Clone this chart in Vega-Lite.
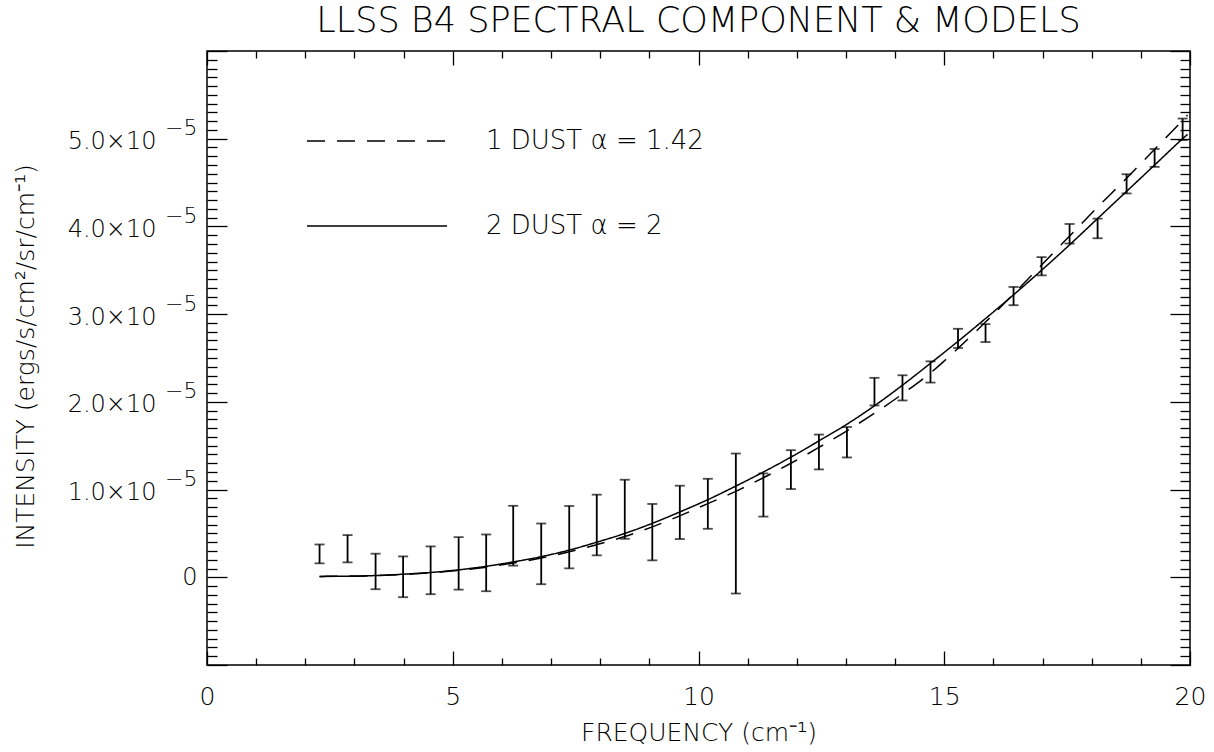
{
  "$schema": "https://vega.github.io/schema/vega-lite/v6.json",
  "width": 983,
  "height": 614,
  "autosize": {"type": "none"},
  "padding": {"left": 207, "top": 51, "right": 24, "bottom": 87},
  "background": "white",
  "title": {"text": "LLSS B4 SPECTRAL COMPONENT & MODELS", "fontSize": 35, "font": "DejaVu Sans", "fontWeight": 200, "color": "black", "offset": 3, "anchor": "middle"},
  "datasets": {
    "errors": [
      {"nu": 2.29, "lo": 1.59e-6, "hi": 3.74e-6},
      {"nu": 2.86, "lo": 1.70e-6, "hi": 4.81e-6},
      {"nu": 3.43, "lo": -1.36e-6, "hi": 2.69e-6},
      {"nu": 3.99, "lo": -2.27e-6, "hi": 2.38e-6},
      {"nu": 4.55, "lo": -1.93e-6, "hi": 3.52e-6},
      {"nu": 5.12, "lo": -1.40e-6, "hi": 4.58e-6},
      {"nu": 5.68, "lo": -1.59e-6, "hi": 4.88e-6},
      {"nu": 6.23, "lo": 1.33e-6, "hi": 8.15e-6},
      {"nu": 6.80, "lo": -0.79e-6, "hi": 6.13e-6},
      {"nu": 7.37, "lo": 1.02e-6, "hi": 8.13e-6},
      {"nu": 7.93, "lo": 2.50e-6, "hi": 9.42e-6},
      {"nu": 8.50, "lo": 4.39e-6, "hi": 1.112e-5},
      {"nu": 9.06, "lo": 1.93e-6, "hi": 8.36e-6},
      {"nu": 9.62, "lo": 4.36e-6, "hi": 1.044e-5},
      {"nu": 10.19, "lo": 5.53e-6, "hi": 1.123e-5},
      {"nu": 10.76, "lo": -1.85e-6, "hi": 1.411e-5},
      {"nu": 11.32, "lo": 6.92e-6, "hi": 1.184e-5},
      {"nu": 11.88, "lo": 1.006e-5, "hi": 1.449e-5},
      {"nu": 12.45, "lo": 1.230e-5, "hi": 1.627e-5},
      {"nu": 13.02, "lo": 1.366e-5, "hi": 1.713e-5},
      {"nu": 13.58, "lo": 1.959e-5, "hi": 2.274e-5},
      {"nu": 14.15, "lo": 2.016e-5, "hi": 2.303e-5},
      {"nu": 14.72, "lo": 2.220e-5, "hi": 2.462e-5},
      {"nu": 15.28, "lo": 2.614e-5, "hi": 2.833e-5},
      {"nu": 15.84, "lo": 2.682e-5, "hi": 2.886e-5},
      {"nu": 16.41, "lo": 3.102e-5, "hi": 3.310e-5},
      {"nu": 16.98, "lo": 3.442e-5, "hi": 3.650e-5},
      {"nu": 17.55, "lo": 3.805e-5, "hi": 4.028e-5},
      {"nu": 18.12, "lo": 3.865e-5, "hi": 4.089e-5},
      {"nu": 18.71, "lo": 4.376e-5, "hi": 4.595e-5},
      {"nu": 19.28, "lo": 4.679e-5, "hi": 4.883e-5},
      {"nu": 19.85, "lo": 4.985e-5, "hi": 5.230e-5}
    ],
    "models": [
      {"model": "1 DUST α = 1.42", "nu": 2.29, "intensity": 0.010e-5},
      {"model": "1 DUST α = 1.42", "nu": 2.86, "intensity": 0.012e-5},
      {"model": "1 DUST α = 1.42", "nu": 3.43, "intensity": 0.018e-5},
      {"model": "1 DUST α = 1.42", "nu": 3.99, "intensity": 0.032e-5},
      {"model": "1 DUST α = 1.42", "nu": 4.55, "intensity": 0.050e-5},
      {"model": "1 DUST α = 1.42", "nu": 5.12, "intensity": 0.078e-5},
      {"model": "1 DUST α = 1.42", "nu": 5.68, "intensity": 0.115e-5},
      {"model": "1 DUST α = 1.42", "nu": 6.23, "intensity": 0.162e-5},
      {"model": "1 DUST α = 1.42", "nu": 6.80, "intensity": 0.220e-5},
      {"model": "1 DUST α = 1.42", "nu": 7.37, "intensity": 0.290e-5},
      {"model": "1 DUST α = 1.42", "nu": 7.93, "intensity": 0.372e-5},
      {"model": "1 DUST α = 1.42", "nu": 8.50, "intensity": 0.465e-5},
      {"model": "1 DUST α = 1.42", "nu": 9.06, "intensity": 0.575e-5},
      {"model": "1 DUST α = 1.42", "nu": 9.62, "intensity": 0.700e-5},
      {"model": "1 DUST α = 1.42", "nu": 10.19, "intensity": 0.840e-5},
      {"model": "1 DUST α = 1.42", "nu": 10.76, "intensity": 0.980e-5},
      {"model": "1 DUST α = 1.42", "nu": 11.32, "intensity": 1.135e-5},
      {"model": "1 DUST α = 1.42", "nu": 11.88, "intensity": 1.300e-5},
      {"model": "1 DUST α = 1.42", "nu": 12.45, "intensity": 1.480e-5},
      {"model": "1 DUST α = 1.42", "nu": 13.02, "intensity": 1.670e-5},
      {"model": "1 DUST α = 1.42", "nu": 13.58, "intensity": 1.870e-5},
      {"model": "1 DUST α = 1.42", "nu": 14.15, "intensity": 2.090e-5},
      {"model": "1 DUST α = 1.42", "nu": 14.72, "intensity": 2.330e-5},
      {"model": "1 DUST α = 1.42", "nu": 15.28, "intensity": 2.610e-5},
      {"model": "1 DUST α = 1.42", "nu": 15.84, "intensity": 2.910e-5},
      {"model": "1 DUST α = 1.42", "nu": 16.41, "intensity": 3.230e-5},
      {"model": "1 DUST α = 1.42", "nu": 16.98, "intensity": 3.560e-5},
      {"model": "1 DUST α = 1.42", "nu": 17.55, "intensity": 3.890e-5},
      {"model": "1 DUST α = 1.42", "nu": 18.12, "intensity": 4.220e-5},
      {"model": "1 DUST α = 1.42", "nu": 18.71, "intensity": 4.550e-5},
      {"model": "1 DUST α = 1.42", "nu": 19.28, "intensity": 4.880e-5},
      {"model": "1 DUST α = 1.42", "nu": 19.85, "intensity": 5.210e-5},
      {"model": "1 DUST α = 1.42", "nu": 19.95, "intensity": 5.270e-5},
      {"model": "2 DUST α = 2", "nu": 2.29, "intensity": 0.010e-5},
      {"model": "2 DUST α = 2", "nu": 2.86, "intensity": 0.013e-5},
      {"model": "2 DUST α = 2", "nu": 3.43, "intensity": 0.020e-5},
      {"model": "2 DUST α = 2", "nu": 3.99, "intensity": 0.035e-5},
      {"model": "2 DUST α = 2", "nu": 4.55, "intensity": 0.055e-5},
      {"model": "2 DUST α = 2", "nu": 5.12, "intensity": 0.085e-5},
      {"model": "2 DUST α = 2", "nu": 5.68, "intensity": 0.125e-5},
      {"model": "2 DUST α = 2", "nu": 6.23, "intensity": 0.175e-5},
      {"model": "2 DUST α = 2", "nu": 6.80, "intensity": 0.235e-5},
      {"model": "2 DUST α = 2", "nu": 7.37, "intensity": 0.310e-5},
      {"model": "2 DUST α = 2", "nu": 7.93, "intensity": 0.400e-5},
      {"model": "2 DUST α = 2", "nu": 8.50, "intensity": 0.500e-5},
      {"model": "2 DUST α = 2", "nu": 9.06, "intensity": 0.615e-5},
      {"model": "2 DUST α = 2", "nu": 9.62, "intensity": 0.745e-5},
      {"model": "2 DUST α = 2", "nu": 10.19, "intensity": 0.885e-5},
      {"model": "2 DUST α = 2", "nu": 10.76, "intensity": 1.040e-5},
      {"model": "2 DUST α = 2", "nu": 11.32, "intensity": 1.200e-5},
      {"model": "2 DUST α = 2", "nu": 11.88, "intensity": 1.370e-5},
      {"model": "2 DUST α = 2", "nu": 12.45, "intensity": 1.555e-5},
      {"model": "2 DUST α = 2", "nu": 13.02, "intensity": 1.745e-5},
      {"model": "2 DUST α = 2", "nu": 13.58, "intensity": 1.955e-5},
      {"model": "2 DUST α = 2", "nu": 14.15, "intensity": 2.190e-5},
      {"model": "2 DUST α = 2", "nu": 14.72, "intensity": 2.440e-5},
      {"model": "2 DUST α = 2", "nu": 15.28, "intensity": 2.690e-5},
      {"model": "2 DUST α = 2", "nu": 15.84, "intensity": 2.950e-5},
      {"model": "2 DUST α = 2", "nu": 16.41, "intensity": 3.220e-5},
      {"model": "2 DUST α = 2", "nu": 16.98, "intensity": 3.500e-5},
      {"model": "2 DUST α = 2", "nu": 17.55, "intensity": 3.790e-5},
      {"model": "2 DUST α = 2", "nu": 18.12, "intensity": 4.090e-5},
      {"model": "2 DUST α = 2", "nu": 18.71, "intensity": 4.400e-5},
      {"model": "2 DUST α = 2", "nu": 19.28, "intensity": 4.700e-5},
      {"model": "2 DUST α = 2", "nu": 19.85, "intensity": 5.000e-5},
      {"model": "2 DUST α = 2", "nu": 19.95, "intensity": 5.050e-5}
    ]
  },
  "config": {
    "view": {"stroke": "black", "strokeWidth": 1.5},
    "font": "DejaVu Sans",
    "axis": {
      "grid": false,
      "domain": false,
      "labelFont": "DejaVu Sans",
      "labelFontWeight": 200,
      "labelFontSize": 24,
      "labelColor": "black",
      "labelOverlap": false,
      "labelFlush": false,
      "tickColor": "black",
      "tickWidth": 1.3,
      "titleFont": "DejaVu Sans",
      "titleFontWeight": 200,
      "titleFontSize": 25,
      "titleColor": "black"
    }
  },
  "resolve": {"axis": {"x": "independent", "y": "independent"}},
  "layer": [
    {
      "data": {"name": "models"},
      "mark": {"type": "line", "color": "black", "strokeWidth": 1.5, "interpolate": "monotone"},
      "encoding": {
        "x": {
          "field": "nu", "type": "quantitative",
          "scale": {"domain": [0, 20], "nice": false, "zero": false},
          "axis": {
            "orient": "bottom",
            "tickCount": 20,
            "tickSize": {"condition": {"test": "abs(datum.value % 5) < 0.001", "value": -14}, "value": -7},
            "labelExpr": "abs(datum.value % 5) < 0.001 ? format(datum.value, 'd') : ''",
            "labelPadding": 33,
            "labelFontSize": 25,
            "title": "FREQUENCY (cm⁻¹)",
            "titlePadding": 4
          }
        },
        "y": {
          "field": "intensity", "type": "quantitative",
          "scale": {"domain": [-1e-5, 6e-5], "nice": false, "zero": false},
          "axis": {
            "orient": "left",
            "tickCount": 70,
            "tickSize": {"condition": {"test": "abs(datum.value*1e5 - round(datum.value*1e5)) < 0.01", "value": -20}, "value": -10},
            "labelExpr": "(abs(datum.value*1e5 - round(datum.value*1e5)) < 0.01 && datum.value > 1e-7 && datum.value < 5.5e-5) ? format(datum.value*1e5, '.1f') + '×10' : ''",
            "labelPadding": 71,
            "labelOffset": 3,
            "title": null
          }
        },
        "strokeDash": {
          "field": "model", "type": "nominal",
          "scale": {"domain": ["1 DUST α = 1.42", "2 DUST α = 2"], "range": [[18, 12], [1, 0]]},
          "legend": {
            "orient": "none", "legendX": 99, "legendY": 19, "title": null,
            "symbolType": "stroke", "symbolSize": 19600, "symbolStrokeWidth": 1.5,
            "symbolStrokeColor": "black",
            "labelFont": "DejaVu Sans", "labelFontWeight": 200, "labelFontSize": 26, "labelColor": "black",
            "labelOffset": 38, "labelLimit": 0, "rowPadding": 1
          }
        }
      }
    },
    {
      "data": {"name": "errors"},
      "mark": {"type": "rule", "color": "black", "strokeWidth": 1.8},
      "encoding": {
        "x": {
          "field": "nu", "type": "quantitative",
          "axis": {
            "orient": "top",
            "tickCount": 20,
            "tickSize": {"condition": {"test": "abs(datum.value % 5) < 0.001", "value": -14}, "value": -7},
            "labels": false,
            "title": null
          }
        },
        "y": {
          "field": "lo", "type": "quantitative",
          "axis": {
            "orient": "left",
            "values": [0, 1e-5, 2e-5, 3e-5, 4e-5, 5e-5],
            "ticks": false,
            "labelExpr": "datum.value < 1e-7 ? '0' : '−5'",
            "labelOffset": {"condition": {"test": "datum.value < 1e-7", "value": 0}, "value": -11},
            "labelFontSize": {"condition": {"test": "datum.value < 1e-7", "value": 24}, "value": 22},
            "labelPadding": 10,
            "title": "INTENSITY (ergs/s/cm²/sr/cm⁻¹)",
            "titleX": -174,
            "titleY": 305,
            "titleAngle": -90,
            "titleAlign": "center",
            "titleBaseline": "alphabetic"
          }
        },
        "y2": {"field": "hi"}
      }
    },
    {
      "data": {"name": "errors"},
      "mark": {"type": "tick", "color": "black", "orient": "horizontal", "size": 10, "thickness": 1.8},
      "encoding": {
        "x": {"field": "nu", "type": "quantitative", "axis": null},
        "y": {
          "field": "lo", "type": "quantitative",
          "axis": {
            "orient": "right",
            "tickCount": 70,
            "tickSize": {"condition": {"test": "abs(datum.value*1e5 - round(datum.value*1e5)) < 0.01", "value": -20}, "value": -10},
            "labels": false,
            "title": null
          }
        }
      }
    },
    {
      "data": {"name": "errors"},
      "mark": {"type": "tick", "color": "black", "orient": "horizontal", "size": 10, "thickness": 1.8},
      "encoding": {
        "x": {"field": "nu", "type": "quantitative", "axis": null},
        "y": {"field": "hi", "type": "quantitative", "axis": null}
      }
    }
  ]
}
